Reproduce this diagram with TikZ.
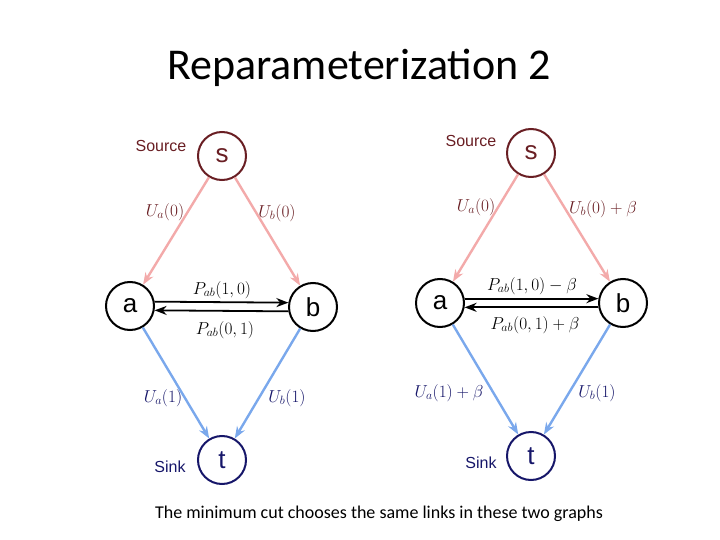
\documentclass[tikz,border=0pt]{standalone}
\usepackage{amsmath}
\usepackage{fontspec}
\newfontfamily\slidefont{Carlito}
\newfontfamily\graphfont{Liberation Sans}
\usetikzlibrary{arrows.meta,calc}

\definecolor{srcred}{RGB}{105,30,35}
\definecolor{sinkblue}{RGB}{22,22,105}
\definecolor{pinkedge}{RGB}{243,170,170}
\definecolor{blueedge}{RGB}{122,168,236}

\tikzset{
  vert/.style={circle, draw, line width=2pt, minimum size=48pt, inner sep=0pt,
    font=\graphfont\fontsize{26}{26}\selectfont},
  srcvert/.style={vert, draw=srcred, text=srcred},
  sinkvert/.style={vert, draw=sinkblue, text=sinkblue},
  tag/.style={font=\graphfont\fontsize{16}{16}\selectfont},
  lab/.style={font=\fontsize{16.5}{16.5}\selectfont},
  srcedge/.style={->, draw=pinkedge, line width=2.4pt},
  sinkedge/.style={->, draw=blueedge, line width=2.4pt},
  pairedge/.style={->, line width=1.8pt},
}

\begin{document}
\begin{tikzpicture}[x=1pt, y=-1pt, >={Stealth[length=12pt,width=9pt]}]
\useasboundingbox (0,0) rectangle (720,540);

\node[font=\slidefont\fontsize{44}{44}\selectfont] (title) at (359,68) {Reparameterization 2};

% left graph
\node[srcvert] (sL) at (222,156) {s};
\node[vert] (aL) at (130,306) {a};
\node[vert] (bL) at (313,307) {b};
\node[sinkvert] (tL) at (222,460) {t};

\node[tag, text=srcred] (srcL) at (161,146) {Source};
\node[tag, text=sinkblue] (sinkL) at (170,467) {Sink};

\draw[srcedge] (sL) -- (aL);
\draw[srcedge] (sL) -- (bL);
\draw[sinkedge] (aL) -- (tL);
\draw[sinkedge] (bL) -- (tL);
\draw[pairedge] (aL.10) -- (bL.170);
\draw[pairedge] (bL.190) -- (aL.-10);

\node[lab, text=srcred] (uaL0) at (165,212) {$U_a(0)$};
\node[lab, text=srcred] (ubL0) at (277,213) {$U_b(0)$};
\node[lab] (pabL10) at (222,290) {$P_{ab}(1,0)$};
\node[lab] (pabL01) at (225,330) {$P_{ab}(0,1)$};
\node[lab, text=sinkblue] (uaL1) at (163,398) {$U_a(1)$};
\node[lab, text=sinkblue] (ubL1) at (287,398) {$U_b(1)$};

% right graph
\node[srcvert] (sR) at (531,153) {s};
\node[vert] (aR) at (440,303) {a};
\node[vert] (bR) at (623,303) {b};
\node[sinkvert] (tR) at (531,456) {t};

\node[tag, text=srcred] (srcR) at (471,141) {Source};
\node[tag, text=sinkblue] (sinkR) at (481,463) {Sink};

\draw[srcedge] (sR) -- (aR);
\draw[srcedge] (sR) -- (bR);
\draw[sinkedge] (aR) -- (tR);
\draw[sinkedge] (bR) -- (tR);
\draw[pairedge] (aR.10) -- (bR.170);
\draw[pairedge] (bR.190) -- (aR.-10);

\node[lab, text=srcred] (uaR0) at (476,207) {$U_a(0)$};
\node[lab, text=srcred] (ubR0) at (603,209) {$U_b(0)+\beta$};
\node[lab] (pabR10) at (532,286) {$P_{ab}(1,0)-\beta$};
\node[lab] (pabR01) at (535,325) {$P_{ab}(0,1)+\beta$};
\node[lab, text=sinkblue] (uaR1) at (449,393) {$U_a(1)+\beta$};
\node[lab, text=sinkblue] (ubR1) at (597,393) {$U_b(1)$};

\node[font=\slidefont\fontsize{18}{18}\selectfont] (caption) at (379,514)
  {The minimum cut chooses the same links in these two graphs};
\end{tikzpicture}
\end{document}
